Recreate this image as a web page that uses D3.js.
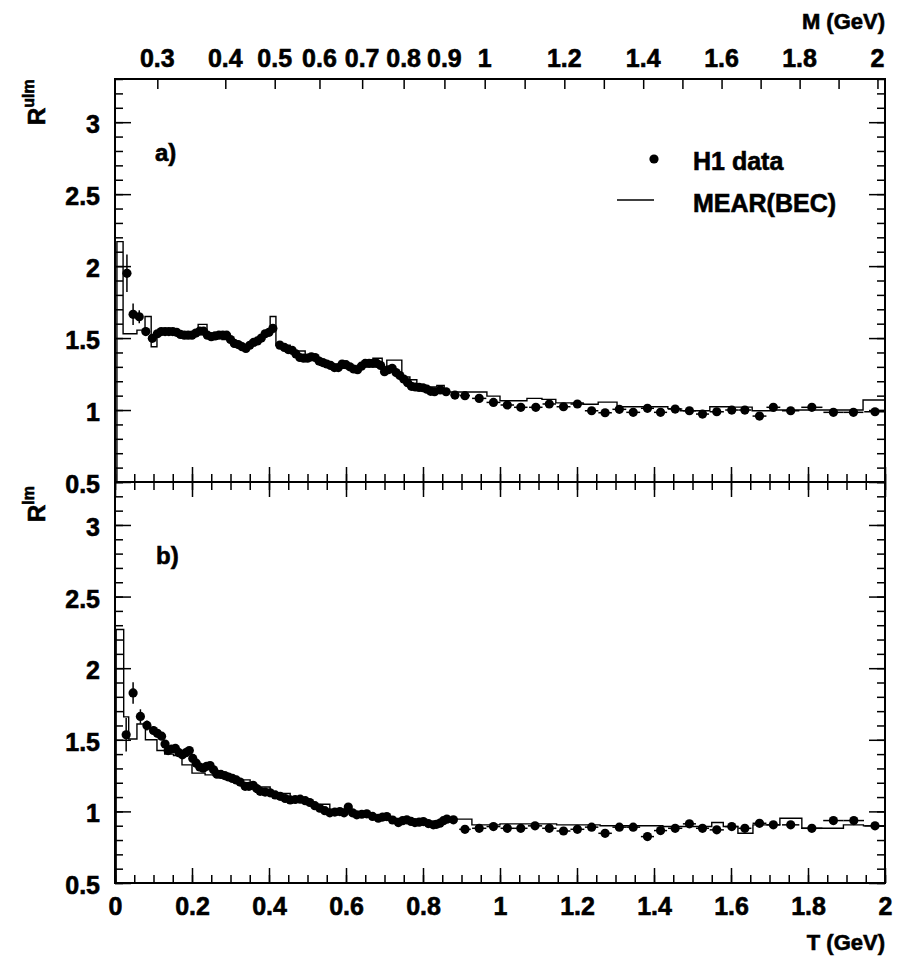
<!DOCTYPE html>
<html>
<head>
<meta charset="utf-8">
<script src="https://cdn.jsdelivr.net/npm/d3@7"></script>
<style>
  body { margin: 0; background: #fff; }
  text { font-family: "Liberation Sans", Arial, Helvetica, sans-serif; font-weight: bold; fill: #000;
         stroke: #000; stroke-width: 0.6px; }
</style>
</head>
<body>
<svg id="chart" width="912" height="965"></svg>
<script>
// ---- data: panel a) unlike-sign / mixed ratio ----
const TOP_T = [0.031,0.047,0.063,0.080,0.097,0.110,0.120,0.130,0.140,0.150,0.160,0.170,0.180,0.190,0.200,
  0.210,0.220,0.230,0.240,0.250,0.260,0.270,0.280,0.290,0.300,0.310,0.320,0.330,0.340,0.350,0.360,0.370,
  0.380,0.390,0.400,0.410,0.428,0.440,0.450,0.460,0.470,0.480,0.490,0.500,0.510,0.520,0.530,0.540,0.550,
  0.560,0.570,0.580,0.590,0.600,0.610,0.620,0.630,0.640,0.650,0.660,0.670,0.680,0.690,0.700,0.710,0.720,
  0.730,0.740,0.750,0.760,0.770,0.780,0.790,0.800,0.810,0.820,0.830,0.845,0.860,0.883,0.909,0.946,0.983,
  1.019,1.054,1.093,1.128,1.165,1.201,1.238,1.273,1.310,1.346,1.383,1.417,1.455,1.492,1.526,1.563,1.602,
  1.636,1.674,1.710,1.755,1.810,1.866,1.918,1.974];
const TOP_R = [1.95,1.665,1.648,1.545,1.498,1.53,1.545,1.545,1.545,1.545,1.54,1.525,1.52,1.52,1.52,
  1.535,1.548,1.548,1.52,1.51,1.515,1.52,1.52,1.52,1.49,1.463,1.455,1.44,1.428,1.45,1.47,1.48,
  1.50,1.53,1.54,1.567,1.451,1.435,1.42,1.415,1.39,1.365,1.36,1.36,1.37,1.365,1.34,1.33,1.32,
  1.31,1.295,1.295,1.32,1.315,1.30,1.285,1.28,1.305,1.324,1.324,1.324,1.324,1.31,1.266,1.28,1.29,
  1.26,1.24,1.215,1.19,1.165,1.16,1.157,1.155,1.145,1.13,1.127,1.14,1.127,1.104,1.100,1.081,1.053,
  1.035,1.019,1.019,1.042,1.023,1.042,0.995,0.981,1.005,0.984,1.012,0.984,1.007,0.995,0.972,0.988,1.0,
  1.0,0.958,1.019,0.995,1.019,0.984,0.984,0.988];
const TOP_ERR = [0.13,0.075,0.045,0.03,0.025];   // visible errors of the lowest-T points

// MEAR(BEC) prediction, panel a): bin edges and bin contents
const TOP_MC_EDGES = [0.005,0.021,0.057,0.078,0.094,0.109,0.161,0.216,0.239,0.278,0.309,0.351,0.382,0.403,
  0.418,0.455,0.494,0.532,0.584,0.629,0.670,0.694,0.706,0.745,0.766,0.784,0.836,0.855,0.966,1.0,1.070,
  1.109,1.145,1.216,1.255,1.304,1.436,1.468,1.545,1.597,1.655,1.714,1.857,1.943,2.0];
const TOP_MC = [2.17,1.53,1.555,1.65,1.44,1.54,1.52,1.595,1.52,1.49,1.44,1.48,1.53,1.65,1.45,1.41,1.36,
  1.31,1.29,1.31,1.36,1.30,1.347,1.23,1.21,1.16,1.17,1.125,1.097,1.065,1.081,1.074,1.05,1.04,1.055,1.023,
  1.01,0.995,1.023,1.02,0.995,1.0,1.0,1.07];

// ---- data: panel b) like-sign / mixed ratio ----
const BOT_T = [0.029,0.047,0.066,0.083,0.100,0.110,0.121,0.130,0.138,0.147,0.157,0.166,0.175,0.184,0.193,
  0.202,0.211,0.220,0.229,0.238,0.247,0.256,0.265,0.275,0.285,0.295,0.305,0.315,0.325,0.338,0.348,0.359,
  0.368,0.377,0.390,0.403,0.416,0.429,0.442,0.455,0.468,0.481,0.494,0.506,0.519,0.532,0.545,0.558,0.571,
  0.584,0.595,0.606,0.617,0.628,0.641,0.654,0.669,0.684,0.695,0.706,0.721,0.736,0.747,0.758,0.769,0.779,
  0.790,0.801,0.814,0.827,0.835,0.844,0.853,0.862,0.879,0.909,0.946,0.983,1.019,1.054,1.091,1.128,1.165,
  1.201,1.238,1.273,1.310,1.346,1.383,1.417,1.455,1.492,1.526,1.563,1.602,1.636,1.674,1.710,1.755,1.810,
  1.866,1.919,1.974];
const BOT_R = [1.535,1.827,1.663,1.60,1.565,1.545,1.525,1.47,1.425,1.435,1.44,1.41,1.395,1.41,1.425,
  1.37,1.337,1.31,1.302,1.315,1.32,1.29,1.26,1.258,1.25,1.24,1.23,1.22,1.205,1.175,1.175,1.182,
  1.16,1.14,1.135,1.13,1.115,1.105,1.09,1.08,1.083,1.085,1.075,1.062,1.04,1.022,1.005,0.99,0.995,
  0.999,0.99,1.03,0.99,0.976,0.98,0.983,0.965,0.952,0.96,0.964,0.94,0.922,0.935,0.941,0.93,0.922,
  0.925,0.929,0.915,0.906,0.91,0.918,0.935,0.946,0.941,0.875,0.882,0.894,0.882,0.882,0.899,0.882,0.863,
  0.875,0.890,0.847,0.890,0.890,0.824,0.866,0.882,0.913,0.882,0.871,0.894,0.882,0.917,0.906,0.906,0.882,
  0.936,0.936,0.899];
const BOT_ERR = [0.117,0.075,0.05,0.035,0.03];

const BOT_MC_EDGES = [0.003,0.0226,0.0356,0.057,0.079,0.109,0.129,0.152,0.174,0.200,0.234,0.255,0.299,
  0.351,0.403,0.455,0.506,0.558,0.610,0.670,0.706,0.740,0.792,0.844,0.870,0.927,1.0,1.147,1.26,1.423,
  1.55,1.58,1.618,1.657,1.727,1.784,1.892,1.944,2.0];
const BOT_MC = [2.27,1.66,1.505,1.61,1.50,1.425,1.40,1.39,1.325,1.267,1.255,1.25,1.22,1.17,1.125,1.085,
  1.05,1.0,0.985,0.964,0.95,0.93,0.925,0.935,0.946,0.906,0.913,0.906,0.90,0.894,0.922,0.894,0.847,0.906,
  0.952,0.882,0.906,0.899];

// ---- axis definitions ----
const T_MAJOR = [0, 0.2, 0.4, 0.6, 0.8, 1.0, 1.2, 1.4, 1.6, 1.8, 2.0];
const R_MAJOR = [0.5, 1, 1.5, 2, 2.5, 3];
const M_TICKS = [0.3,0.4,0.5,0.6,0.7,0.8,0.9,1.0,1.1,1.2,1.3,1.4,1.5,1.6,1.7,1.8,1.9,2.0];
const M_LABELS = [0.3,0.4,0.5,0.6,0.7,0.8,0.9,1.0,1.2,1.4,1.6,1.8,2.0];
const PION_MASS = 0.13957;   // GeV

const svg = d3.select("#chart");
svg.append("rect").attr("width", 912).attr("height", 965).attr("fill", "#fff");

const x = d3.scaleLinear().domain([0, 2]).range([115, 885]);
const yA = d3.scaleLinear().domain([0.5, 3.3]).range([482, 79]);
const yB = d3.scaleLinear().domain([0.5, 3.3]).range([883, 482]);
// the pair mass M axis is mapped onto T = sqrt(M^2 - 4 m_pi^2)
const mToT = m => Math.sqrt(m * m - 4 * PION_MASS * PION_MASS);

const fmt = d3.format("~g");
const tMinor = d3.range(0, 2.0001, 0.05);
const rMinor = d3.range(0.5, 3.3001, 0.1);

function styleAxis(g) {
  g.select(".domain").remove();
  g.selectAll("line").attr("stroke", "#000").attr("stroke-width", 1.5);
  g.selectAll("text").attr("font-size", 25).attr("fill", "#000")
    .attr("font-family", '"Liberation Sans", Arial, sans-serif').attr("font-weight", "bold");
}

function panel(y) {
  const L = 115, R = 885, T = y.range()[1], B = y.range()[0];
  // y ticks, left side (labelled) and right side
  svg.append("g").attr("transform", `translate(${L},0)`)
    .call(d3.axisLeft(y).tickValues(rMinor).tickSize(-8).tickFormat("")).call(styleAxis);
  const gl = svg.append("g").attr("transform", `translate(${L},0)`)
    .call(d3.axisLeft(y).tickValues(R_MAJOR).tickSize(-16).tickPadding(15).tickFormat(fmt)).call(styleAxis);
  gl.selectAll("text").attr("dy", "0.42em");
  svg.append("g").attr("transform", `translate(${R},0)`)
    .call(d3.axisRight(y).tickValues(rMinor).tickSize(-8).tickFormat("")).call(styleAxis);
  svg.append("g").attr("transform", `translate(${R},0)`)
    .call(d3.axisRight(y).tickValues(R_MAJOR).tickSize(-16).tickFormat("")).call(styleAxis);
  // frame
  svg.append("rect").attr("x", L).attr("y", T).attr("width", R - L).attr("height", B - T)
    .attr("fill", "none").attr("stroke", "#000").attr("stroke-width", 2);
  return { L, R, T, B };
}

const pa = panel(yA);
const pb = panel(yB);

// T ticks along the panel boundaries (pointing into each panel)
function tTicks(yPos, dir, labelled) {
  const mk = dir === "up" ? d3.axisBottom : d3.axisTop;
  svg.append("g").attr("transform", `translate(0,${yPos})`)
    .call(mk(x).tickValues(tMinor).tickSize(-8).tickFormat("")).call(styleAxis);
  const g = svg.append("g").attr("transform", `translate(0,${yPos})`)
    .call(mk(x).tickValues(T_MAJOR).tickSize(-15).tickPadding(14).tickFormat(labelled ? fmt : ""))
    .call(styleAxis);
  return g;
}
tTicks(482, "up", false);
tTicks(482, "down", false);
const gBottom = tTicks(883, "up", true);
gBottom.selectAll("text").attr("dy", null).attr("y", 32);

// top axis in pair mass M
svg.append("g").attr("transform", "translate(0,79)")
  .call(d3.axisTop(x).tickValues(M_TICKS.map(mToT)).tickSize(-10).tickFormat(""))
  .call(styleAxis);
svg.append("g").selectAll("text").data(M_LABELS).join("text")
  .attr("x", d => x(mToT(d))).attr("y", 67).attr("text-anchor", "middle")
  .attr("font-size", 25).text(d => fmt(d));

// axis titles
svg.append("text").attr("x", 885).attr("y", 29).attr("text-anchor", "end")
  .attr("font-size", 22).text("M (GeV)");
svg.append("text").attr("x", 885).attr("y", 950).attr("text-anchor", "end")
  .attr("font-size", 22).text("T (GeV)");

function yTitle(xPos, yPos, sup) {
  const t = svg.append("text").attr("transform", `translate(${xPos},${yPos}) rotate(-90)`)
    .attr("font-size", 24);
  t.append("tspan").text("R");
  t.append("tspan").attr("font-size", 16).attr("dy", -11).text(sup);
}
yTitle(45, 125, "ulm");
yTitle(45, 522, "lm");

// panel tags
svg.append("text").attr("x", 155).attr("y", 161).attr("font-size", 24).text("a)");
svg.append("text").attr("x", 156).attr("y", 564).attr("font-size", 24).text("b)");

// histogram of the model prediction
function drawMC(edges, vals, y, clipId, box) {
  svg.append("clipPath").attr("id", clipId).append("rect")
    .attr("x", box.L).attr("y", box.T).attr("width", box.R - box.L).attr("height", box.B - box.T);
  const pts = [[edges[0], 0.5]].concat(edges.map((e, i) => [e, vals[Math.min(i, vals.length - 1)]]));
  const line = d3.line().x(d => x(d[0])).y(d => y(d[1])).curve(d3.curveStepAfter);
  svg.append("path").attr("d", line(pts)).attr("fill", "none").attr("stroke", "#000")
    .attr("stroke-width", 1.4).attr("clip-path", `url(#${clipId})`);
}

// measured points with error bars
function drawData(ts, rs, errs, y) {
  const g = svg.append("g");
  ts.forEach((t, i) => {
    const gaps = [];
    if (i > 0) gaps.push(t - ts[i - 1]);
    if (i < ts.length - 1) gaps.push(ts[i + 1] - t);
    const hw = d3.min(gaps) / 2;
    g.append("line").attr("x1", x(t - hw)).attr("x2", x(t + hw))
      .attr("y1", y(rs[i])).attr("y2", y(rs[i])).attr("stroke", "#000").attr("stroke-width", 1.5);
    if (i < errs.length) {
      g.append("line").attr("x1", x(t)).attr("x2", x(t))
        .attr("y1", y(rs[i] - errs[i])).attr("y2", y(rs[i] + errs[i]))
        .attr("stroke", "#000").attr("stroke-width", 1.5);
    }
  });
  g.selectAll("circle").data(ts).join("circle")
    .attr("cx", d => x(d)).attr("cy", (d, i) => y(rs[i])).attr("r", 4.6).attr("fill", "#000");
}

drawMC(TOP_MC_EDGES, TOP_MC, yA, "clipA", pa);
drawMC(BOT_MC_EDGES, BOT_MC, yB, "clipB", pb);
drawData(TOP_T, TOP_R, TOP_ERR, yA);
drawData(BOT_T, BOT_R, BOT_ERR, yB);

// legend
svg.append("circle").attr("cx", 654).attr("cy", 159).attr("r", 4.6).attr("fill", "#000");
svg.append("text").attr("x", 693).attr("y", 170).attr("font-size", 25).text("H1 data");
svg.append("line").attr("x1", 617).attr("x2", 654).attr("y1", 200).attr("y2", 200)
  .attr("stroke", "#000").attr("stroke-width", 1.4);
svg.append("text").attr("x", 693).attr("y", 212).attr("font-size", 25).text("MEAR(BEC)");
</script>
</body>
</html>
